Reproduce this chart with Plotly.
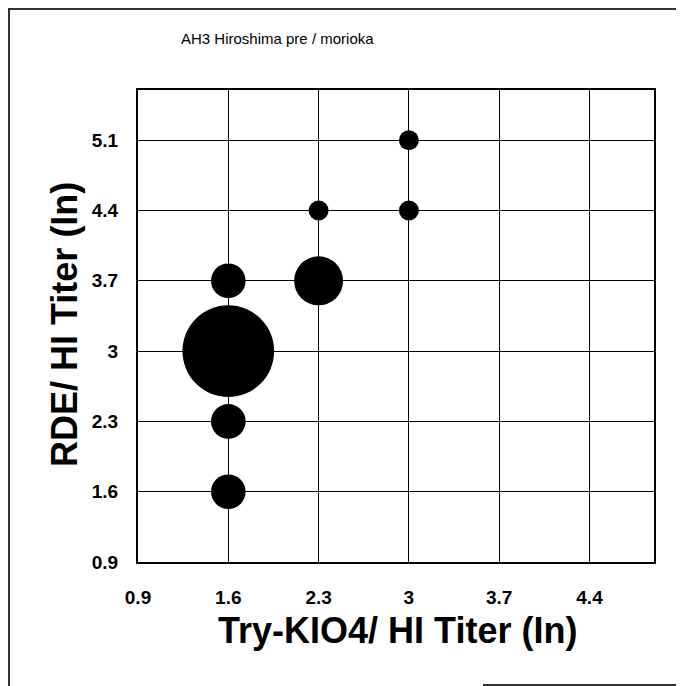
import plotly.graph_objects as go

# Data
x_vals = [1.6, 1.6, 2.3, 1.6, 1.6, 2.3, 3.0, 3.0]
y_vals = [3.0, 3.7, 3.7, 2.3, 1.6, 4.4, 4.4, 5.1]
counts = [21, 3, 6, 3, 3, 1, 1, 1]
tick_vals = [0.9, 1.6, 2.3, 3.0, 3.7, 4.4, 5.1]
tick_text = ["0.9", "1.6", "2.3", "3", "3.7", "4.4", "5.1"]

title_text = "AH3 Hiroshima pre / morioka"
x_title = "Try-KIO4/ HI Titer (In)"
y_title = "RDE/ HI Titer (In)"

# page body has an 8px margin; compensate so the figure lands where the reference is
OFF = 8
W, H = 684 - OFF, 686 - OFF
L, R, T, B = 138 - OFF, 30, 90 - OFF, 124
pw, ph = W - L - R, H - T - B

def px(x):
    return (x - OFF - L) / pw

def py(y):
    return (H - B - (y - OFF)) / ph

fig = go.Figure()
fig.add_trace(go.Scatter(
    x=x_vals, y=y_vals, mode="markers",
    marker=dict(size=counts, sizemode="area", sizeref=0.005,
                color="black", line=dict(width=0), opacity=1),
    hoverinfo="x+y",
    showlegend=False,
))

font_family = "Liberation Sans, Arial, sans-serif"

axis_common = dict(
    showgrid=True, gridcolor="black", gridwidth=1,
    showline=True, linecolor="black", linewidth=2, mirror=True,
    zeroline=False, ticks="", tickvals=tick_vals, ticktext=tick_text,
    tickfont=dict(family=font_family, size=19, color="black", weight="bold"),
)

frame = dict(color="#333", width=2)
fig.update_layout(
    width=W, height=H,
    margin=dict(l=L, r=R, t=T, b=B),
    paper_bgcolor="white", plot_bgcolor="white",
    xaxis=dict(range=[0.9, 4.9], ticklabelstandoff=17, **axis_common),
    yaxis=dict(range=[0.9, 5.6], ticklabelstandoff=14, **axis_common),
    font=dict(family=font_family, color="black"),
    shapes=[
        dict(type="line", xref="paper", yref="paper",
             x0=px(8), x1=px(684), y0=py(9), y1=py(9), line=frame),
        dict(type="line", xref="paper", yref="paper",
             x0=px(9), x1=px(9), y0=py(8), y1=py(686), line=frame),
        dict(type="line", xref="paper", yref="paper",
             x0=px(483), x1=px(684), y0=py(685), y1=py(685), line=frame),
    ],
    annotations=[
        dict(text=title_text, xref="paper", yref="paper",
             x=px(277), y=py(39), showarrow=False,
             xanchor="center", yanchor="middle",
             font=dict(size=15, family=font_family)),
        dict(text=x_title, xref="paper", yref="paper",
             x=px(397), y=py(630), showarrow=False,
             xanchor="center", yanchor="middle",
             font=dict(size=36, family=font_family, weight="bold")),
        dict(text=y_title, xref="paper", yref="paper",
             x=px(64), y=py(325), showarrow=False, textangle=-90,
             xanchor="center", yanchor="middle",
             font=dict(size=36, family=font_family, weight="bold")),
    ],
)

fig.write_html("out.html")
